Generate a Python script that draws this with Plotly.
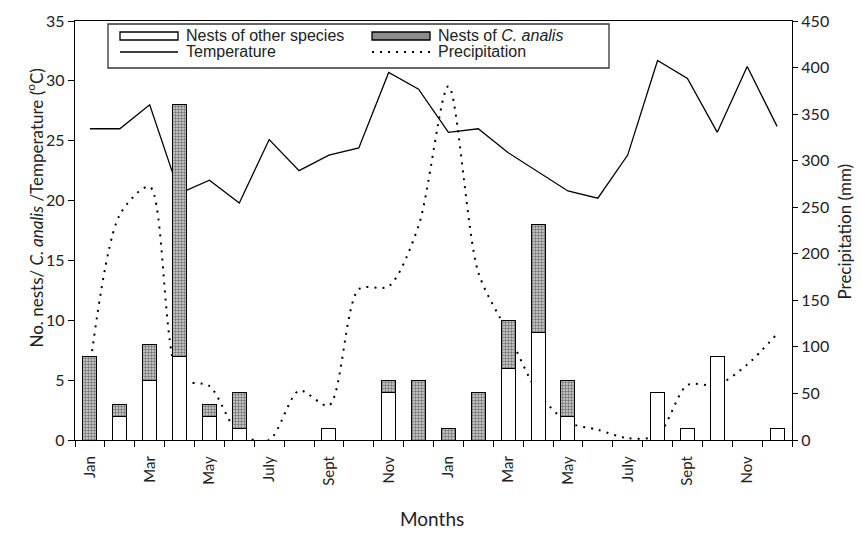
import plotly.graph_objects as go

# Monthly series over two years (Jan..Dec, Jan..Dec)
months = ['Jan', 'Feb', 'Mar', 'Apr', 'May', 'Jun', 'Jul', 'Aug', 'Sep', 'Oct', 'Nov', 'Dec'] * 2
tick_labels = ['Jan', 'Mar', 'May', 'July', 'Sept', 'Nov', 'Jan', 'Mar', 'May', 'July', 'Sept', 'Nov']

other_species = [0, 2, 5, 7, 2, 1, 0, 0, 1, 0, 4, 0,
                 0, 0, 6, 9, 2, 0, 0, 4, 1, 7, 0, 1]
c_analis = [7, 1, 3, 21, 1, 3, 0, 0, 0, 0, 1, 5,
            1, 4, 4, 9, 3, 0, 0, 0, 0, 0, 0, 0]
temperature = [26.0, 26.0, 28.0, 20.6, 21.7, 19.8, 25.1, 22.5, 23.8, 24.4, 30.7, 29.3,
               25.7, 26.0, 24.0, 22.4, 20.8, 20.2, 23.8, 31.7, 30.2, 25.7, 31.2, 26.2]
precipitation = [78, 242, 272, 66, 58, 6, 0, 53, 37, 162, 165, 230,
                 380, 180, 115, 51, 19, 11, 2, 5, 59, 59, 81, 114]

idx = list(range(len(months)))

W, H = 861, 546
L, R, T, B = 75, 69, 21, 106
PW, PH = W - L - R, H - T - B


def xp(px):
    return (px - L) / PW


def yp(py):
    return (H - B - py) / PH


def nz(vals):
    return [v if v else None for v in vals]


FONT = 'Lato'
LEG_FONT = 'Liberation Sans'

fig = go.Figure()

# climate lines (drawn beneath the bars)
fig.add_trace(go.Scatter(x=idx, y=temperature, mode='lines', yaxis='y',
                         line=dict(color='black', width=1.3), showlegend=False))
fig.add_trace(go.Scatter(x=idx, y=precipitation, mode='lines', yaxis='y2',
                         line=dict(color='black', width=2, dash='2px,6px',
                                   shape='spline', smoothing=0.8),
                         showlegend=False))

# stacked nest counts
fig.add_trace(go.Bar(x=idx, y=nz(other_species), yaxis='y3', width=0.47,
                     marker=dict(color='white', line=dict(color='black', width=1)),
                     showlegend=False))
fig.add_trace(go.Bar(x=idx, y=nz(c_analis), yaxis='y3', width=0.47,
                     marker=dict(color='white',
                                 line=dict(color='black', width=1),
                                 pattern=dict(shape='.', fgcolor='#111', bgcolor='#d4d4d4',
                                              size=3, solidity=0.5)),
                     showlegend=False))

fig.update_layout(
    width=W, height=H,
    margin=dict(l=L, r=R, t=T, b=B),
    paper_bgcolor='white', plot_bgcolor='white',
    barmode='stack',
    font=dict(family=FONT, color='#222'),
    xaxis=dict(range=[-0.5, 23.5], tickmode='array', tickvals=idx[::2], ticktext=tick_labels,
               tickangle=-90, ticks='outside', ticklen=9, tickcolor='rgba(0,0,0,0)',
               minor=dict(tickmode='array', tickvals=[i - 0.5 for i in range(25)],
                          ticks='outside', ticklen=6, tickcolor='black', tickwidth=1.2),
               showline=True, linecolor='black', linewidth=1.3, mirror=True,
               showgrid=False, zeroline=False, tickfont=dict(family=FONT, size=15)),
    yaxis=dict(range=[0, 35], tickmode='linear', tick0=0, dtick=5,
               ticks='outside', ticklen=6, tickwidth=1.2, tickcolor='black',
               showline=True, linecolor='black', linewidth=1.3,
               showgrid=False, zeroline=False, tickfont=dict(family=FONT, size=16)),
    yaxis2=dict(range=[0, 450], tickmode='linear', tick0=0, dtick=50, overlaying='y', side='right',
                ticks='outside', ticklen=5, tickwidth=1.2, tickcolor='black',
                showline=True, linecolor='black', linewidth=1.3,
                showgrid=False, zeroline=False, tickfont=dict(family=FONT, size=16)),
    yaxis3=dict(range=[0, 35], overlaying='y', visible=False),
)

# axis titles
fig.add_annotation(xref='paper', yref='paper', x=xp(21), y=yp(208), textangle=-90,
                   text='No. nests/ <i>C. analis</i> /Temperature (<sup>o</sup>C)',
                   showarrow=False, font=dict(family=FONT, size=17, color='#222'))
fig.add_annotation(xref='paper', yref='paper', x=xp(856), y=yp(232), textangle=-90,
                   text='Precipitation (mm)', showarrow=False,
                   font=dict(family=FONT, size=17, color='#222'))
fig.add_annotation(xref='paper', yref='paper', x=xp(432), y=yp(532),
                   text='Months', showarrow=False,
                   font=dict(family=FONT, size=19, color='#222'))

# legend box
shapes = [
    dict(type='rect', xref='paper', yref='paper', x0=xp(108), x1=xp(609), y0=yp(68), y1=yp(24),
         line=dict(color='#333', width=1.3), fillcolor='white', layer='above'),
    dict(type='rect', xref='paper', yref='paper', x0=xp(120), x1=xp(178), y0=yp(40), y1=yp(32),
         line=dict(color='black', width=1.3), fillcolor='white', layer='above'),
    dict(type='rect', xref='paper', yref='paper', x0=xp(372), x1=xp(430), y0=yp(40), y1=yp(32),
         line=dict(color='black', width=1.3), fillcolor='#8c8c8c', layer='above'),
    dict(type='line', xref='paper', yref='paper', x0=xp(120), x1=xp(178), y0=yp(52), y1=yp(52),
         line=dict(color='black', width=1.3), layer='above'),
    dict(type='line', xref='paper', yref='paper', x0=xp(372), x1=xp(430), y0=yp(52), y1=yp(52),
         line=dict(color='black', width=2, dash='2px,6px'), layer='above'),
]
fig.update_layout(shapes=shapes)

legend_text = [
    (184, 36, 'Nests of other species'),
    (184, 52, 'Temperature'),
    (436, 36, 'Nests of <i>C. analis</i>'),
    (436, 52, 'Precipitation'),
]
for x, y, t in legend_text:
    fig.add_annotation(xref='paper', yref='paper', x=xp(x), y=yp(y), xanchor='left',
                       yanchor='middle', text=t, showarrow=False,
                       font=dict(family=LEG_FONT, size=16, color='#222'))

fig.write_html('out.html')
